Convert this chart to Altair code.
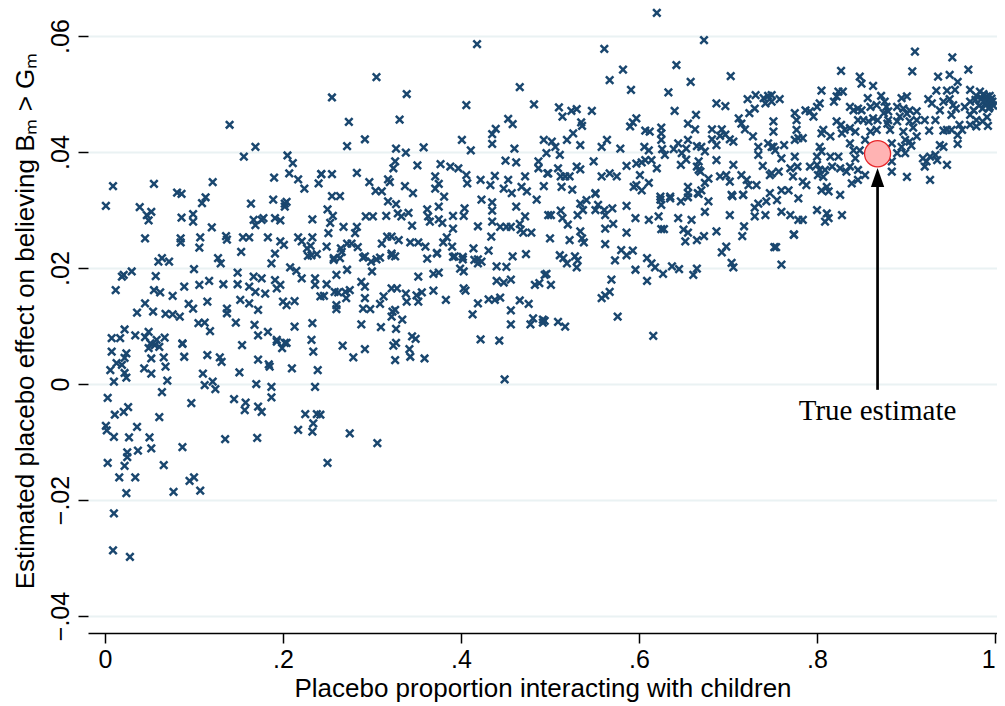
import altair as alt
import pandas as pd

# ---- scatter values (x = placebo proportion, y = estimated placebo effect) ----
grp_a = [(0.0075,0.0056),(0.024,0.0053),(0.022,0.0045),(0.013,0.0036),(0.006,0.0024),(0.019,0.0033),(0.022,0.0019),
         (0.024,0.0011),(0.010,0.0004),(0.003,-0.0024),(0.011,-0.0053),(0.021,-0.0048),(0.026,-0.0040),(0.001,-0.0072),
         (0.002,-0.0080),(0.010,-0.0091),(0.027,-0.0092),(0.036,-0.0074),(0.050,-0.0092),(0.037,-0.0115),(0.025,-0.0118),
         (0.025,-0.0126),(0.022,-0.0141),(0.003,-0.0136),(0.016,-0.0161),(0.034,-0.0161),(0.024,-0.0188),(0.010,-0.0223),
         (0.009,-0.0287),(0.028,-0.0298),(0.052,-0.0111),(0.066,-0.0140),(0.061,-0.0057),(0.087,-0.0109),(0.077,-0.0186),
         (0.095,-0.0167),(0.100,-0.0161),(0.107,-0.0184),(0.097,-0.0033)]
grp_b = [(0.135,-0.0095),(0.171,-0.0093),(0.145,-0.0026),(0.158,-0.0032),(0.157,-0.0045),(0.172,-0.0039),(0.176,-0.0048),
         (0.187,-0.0023),(0.187,-0.0005),(0.170,0.0000),(0.217,-0.0079),(0.225,-0.0052),(0.238,-0.0052),(0.234,-0.0068),
         (0.233,-0.0082),(0.236,-0.0005),(0.239,0.0024),(0.234,0.0056),(0.210,0.0027),(0.185,0.0030),(0.184,0.0034),
         (0.172,0.0042),(0.151,0.0020),(0.124,-0.0009),(0.121,0.0004),(0.112,-0.0002),(0.110,0.0018),(0.131,0.0038),
         (0.129,0.0046),(0.115,0.0050),(0.089,0.0047),(0.087,0.0069),(0.066,0.0046),(0.068,0.0030),(0.070,0.0006),
         (0.064,-0.0014),(0.052,0.0018),(0.044,0.0027),(0.052,0.0044),(0.049,0.0062),(0.056,0.0067),(0.061,0.0064),
         (0.154,0.0067),(0.193,0.0073),(0.204,0.0071),(0.199,0.0062),(0.275,-0.0085),(0.306,-0.0102),(0.250,-0.0136),
         (0.242,-0.0053)]
grp_c = [(0.0075,0.0079),(0.017,0.0079),(0.022,0.0094),(0.034,0.0084),(0.049,0.0090),(0.051,0.0070),(0.058,0.0076),
         (0.067,0.0080),(0.045,0.0081),(0.012,0.0162),(0.021,0.0188),(0.030,0.0194),(0.019,0.0185),(0.045,0.0139),
         (0.036,0.0123),(0.054,0.0125),(0.057,0.0186),(0.055,0.0162),(0.062,0.0158),(0.076,0.0152),(0.089,0.0168),
         (0.100,0.0198),(0.060,0.0211),(0.064,0.0217),(0.072,0.0211),(0.045,0.0251),(0.009,0.0341),(0.001,0.0307),
         (0.039,0.0305),(0.047,0.0291),(0.052,0.0297),(0.049,0.0282),(0.055,0.0345),(0.086,0.0287),(0.081,0.0330),
         (0.086,0.0328),(0.121,0.0348),(0.109,0.0312),(0.113,0.0322),(0.099,0.0293),(0.099,0.0280),(0.120,0.0270),
         (0.085,0.0251),(0.085,0.0244),(0.107,0.0253),(0.106,0.0235),(0.136,0.0255),(0.137,0.0249),(0.153,0.0228),
         (0.155,0.0253),(0.162,0.0253),(0.127,0.0217),(0.130,0.0208),(0.149,0.0192),(0.149,0.0172),(0.133,0.0172),
         (0.117,0.0178),(0.106,0.0171),(0.068,0.0121),(0.076,0.0120),(0.084,0.0116),(0.094,0.0138),(0.099,0.0130),
         (0.115,0.0142),(0.137,0.0130),(0.137,0.0122),(0.147,0.0106),(0.105,0.0105),(0.112,0.0106),(0.118,0.0091),
         (0.087,0.0070),(0.152,0.0145),(0.162,0.0139),(0.167,0.0185),(0.176,0.0182),(0.162,0.0168),(0.169,0.0159),
         (0.180,0.0156),(0.172,0.0128),(0.168,0.0102),(0.172,0.0084),(0.183,0.0090),(0.191,0.0179),(0.197,0.0171),
         (0.193,0.0165),(0.200,0.0142),(0.204,0.0136),(0.213,0.0143),(0.213,0.0099),(0.193,0.0076),(0.202,0.0071),
         (0.233,0.0105),(0.232,0.0076),(0.187,0.0208),(0.208,0.0201),(0.215,0.0195),(0.221,0.0182),(0.236,0.0182),
         (0.236,0.0171),(0.242,0.0151),(0.191,0.0225),(0.232,0.0222),(0.238,0.0224),(0.228,0.0221),(0.227,0.0234),
         (0.231,0.0238),(0.217,0.0253),(0.221,0.0246),(0.233,0.0253),(0.201,0.0240),(0.197,0.0246),(0.183,0.0253),
         (0.191,0.0286),(0.197,0.0282),(0.233,0.0284),(0.167,0.0283),(0.169,0.0274),(0.176,0.0283),(0.178,0.0286),
         (0.189,0.0318),(0.202,0.0311),(0.204,0.0314),(0.202,0.0306),(0.164,0.0311),(0.190,0.0356),(0.207,0.0363),
         (0.217,0.0353),(0.224,0.0337),(0.240,0.0346),(0.243,0.0362),(0.156,0.0392),(0.205,0.0394),(0.140,0.0447),
         (0.169,0.0409),(0.211,0.0381)]
grp_d = [(0.305,0.0529),(0.255,0.0494),(0.339,0.0500),(0.274,0.0452),(0.331,0.0456),(0.292,0.0422),(0.272,0.0410),
         (0.406,0.0481),(0.466,0.0512),(0.482,0.0482),(0.453,0.0457),(0.458,0.0448),(0.439,0.0440),(0.435,0.0431),
         (0.435,0.0414),(0.401,0.0421),(0.411,0.0403),(0.327,0.0406),(0.338,0.0399),(0.358,0.0408),(0.326,0.0384),
         (0.493,0.0421),(0.460,0.0406),(0.450,0.0385),(0.462,0.0382),(0.487,0.0384),(0.487,0.0372),(0.497,0.0363),
         (0.243,0.0362),(0.255,0.0362),(0.283,0.0364),(0.324,0.0372),(0.351,0.0377),(0.377,0.0379),(0.388,0.0375),
         (0.397,0.0372),(0.406,0.0360),(0.407,0.0346),(0.371,0.0358),(0.375,0.0345),(0.371,0.0337),(0.381,0.0323),
         (0.375,0.0306),(0.297,0.0348),(0.304,0.0333),(0.311,0.0332),(0.318,0.0353),(0.320,0.0348),(0.337,0.0341),
         (0.346,0.0329),(0.318,0.0315),(0.327,0.0310),(0.255,0.0324),(0.264,0.0324),(0.250,0.0301),(0.256,0.0290),
         (0.253,0.0278),(0.293,0.0289),(0.301,0.0289),(0.316,0.0290),(0.329,0.0294),(0.341,0.0295),(0.333,0.0289),
         (0.362,0.0301),(0.363,0.0289),(0.365,0.0280),(0.375,0.0284),(0.379,0.0278),(0.345,0.0273),(0.391,0.0290),
         (0.404,0.0303),(0.403,0.0290),(0.391,0.0268),(0.419,0.0272),(0.423,0.0318),(0.435,0.0313),(0.435,0.0299),
         (0.422,0.0352),(0.433,0.0343),(0.438,0.0359),(0.448,0.0337),(0.453,0.0352),(0.457,0.0329),(0.462,0.0306),
         (0.472,0.0358),(0.468,0.0340),(0.474,0.0332),(0.485,0.0318),(0.493,0.0341),(0.498,0.0291),(0.435,0.0280),
         (0.444,0.0271),(0.451,0.0271),(0.456,0.0271),(0.466,0.0276),(0.467,0.0266),(0.470,0.0261),(0.479,0.0261),
         (0.472,0.0289),(0.434,0.0254),(0.431,0.0230),(0.414,0.0234),(0.419,0.0215),(0.390,0.0237),(0.391,0.0219),
         (0.402,0.0219),(0.380,0.0244),(0.384,0.0253),(0.373,0.0226),(0.360,0.0237),(0.352,0.0244),(0.343,0.0244),
         (0.330,0.0248),(0.322,0.0254),(0.317,0.0254),(0.311,0.0242),(0.322,0.0225),(0.309,0.0218),(0.292,0.0220),
         (0.283,0.0271),(0.281,0.0260),(0.268,0.0271),(0.251,0.0260),(0.249,0.0237),(0.265,0.0234),(0.272,0.0242),
         (0.277,0.0242),(0.284,0.0236),(0.266,0.0228),(0.257,0.0217),(0.418,0.0586)]
grp_e = [(0.257,0.0214),(0.264,0.0217),(0.290,0.0218),(0.299,0.0211),(0.305,0.0215),(0.322,0.0222),(0.326,0.0220),
         (0.300,0.0194),(0.272,0.0197),(0.260,0.0188),(0.249,0.0172),(0.246,0.0152),(0.258,0.0159),(0.262,0.0158),
         (0.270,0.0159),(0.275,0.0162),(0.271,0.0148),(0.260,0.0136),(0.260,0.0129),(0.288,0.0176),(0.292,0.0168),
         (0.292,0.0148),(0.290,0.0130),(0.298,0.0129),(0.309,0.0138),(0.313,0.0151),(0.322,0.0165),(0.328,0.0165),
         (0.338,0.0156),(0.339,0.0142),(0.350,0.0153),(0.356,0.0158),(0.352,0.0142),(0.369,0.0161),(0.383,0.0145),
         (0.352,0.0185),(0.369,0.0190),(0.375,0.0192),(0.362,0.0216),(0.373,0.0225),(0.323,0.0125),(0.322,0.0116),
         (0.326,0.0128),(0.334,0.0111),(0.327,0.0095),(0.310,0.0098),(0.288,0.0103),(0.327,0.0071),(0.324,0.0066),
         (0.345,0.0082),(0.349,0.0078),(0.342,0.0060),(0.343,0.0047),(0.326,0.0041),(0.359,0.0044),(0.292,0.0060),
         (0.279,0.0046),(0.267,0.0066),(0.399,0.0199),(0.403,0.0194),(0.403,0.0165),(0.405,0.0161),(0.393,0.0220),
         (0.402,0.0215),(0.415,0.0214),(0.419,0.0208),(0.423,0.0211),(0.440,0.0203),(0.451,0.0202),(0.440,0.0178),
         (0.448,0.0175),(0.456,0.0180),(0.458,0.0220),(0.473,0.0224),(0.419,0.0139),(0.413,0.0120),(0.431,0.0146),
         (0.438,0.0145),(0.444,0.0149),(0.456,0.0127),(0.456,0.0103),(0.466,0.0144),(0.476,0.0138),(0.481,0.0113),
         (0.478,0.0103),(0.492,0.0111),(0.492,0.0106),(0.483,0.0171),(0.488,0.0174),(0.494,0.0188),(0.422,0.0077),
         (0.443,0.0075),(0.449,0.0008)]
grp_f = [(0.620,0.0640),(0.561,0.0578),(0.673,0.0593),(0.582,0.0542),(0.567,0.0524),(0.642,0.0550),(0.591,0.0507),
         (0.658,0.0521),(0.633,0.0503),(0.703,0.0531),(0.510,0.0477),(0.514,0.0461),(0.524,0.0471),(0.530,0.0474),
         (0.547,0.0471),(0.535,0.0451),(0.536,0.0445),(0.526,0.0432),(0.519,0.0421),(0.502,0.0418),(0.506,0.0409),
         (0.511,0.0395),(0.496,0.0398),(0.534,0.0412),(0.558,0.0409),(0.564,0.0421),(0.579,0.0406),(0.590,0.0444),
         (0.593,0.0451),(0.597,0.0458),(0.607,0.0437),(0.612,0.0435),(0.606,0.0409),(0.611,0.0403),(0.625,0.0442),
         (0.625,0.0432),(0.625,0.0421),(0.626,0.0405),(0.629,0.0395),(0.640,0.0471),(0.655,0.0449),(0.664,0.0464),
         (0.663,0.0439),(0.639,0.0405),(0.644,0.0415),(0.648,0.0398),(0.653,0.0406),(0.655,0.0421),(0.653,0.0387),
         (0.647,0.0378),(0.665,0.0410),(0.670,0.0409),(0.674,0.0401),(0.682,0.0439),(0.693,0.0439),(0.691,0.0428),
         (0.682,0.0422),(0.687,0.0412),(0.697,0.0430),(0.702,0.0422),(0.706,0.0418),(0.687,0.0386),(0.667,0.0384),
         (0.667,0.0369),(0.712,0.0458),(0.715,0.0449),(0.719,0.0439),(0.724,0.0467),(0.722,0.0491),(0.731,0.0498),
         (0.740,0.0493),(0.742,0.0484),(0.745,0.0497),(0.730,0.0475),(0.728,0.0427),(0.734,0.0409),(0.734,0.0395),
         (0.745,0.0415),(0.749,0.0409),(0.739,0.0376),(0.747,0.0360),(0.687,0.0484),(0.697,0.0479),(0.586,0.0376),
         (0.597,0.0380),(0.603,0.0382),(0.607,0.0386),(0.614,0.0386),(0.620,0.0372),(0.601,0.0360),(0.597,0.0343),
         (0.594,0.0340),(0.603,0.0334),(0.611,0.0347),(0.665,0.0375),(0.669,0.0366),(0.678,0.0354),(0.674,0.0347),
         (0.670,0.0334),(0.666,0.0329),(0.655,0.0340),(0.655,0.0329),(0.635,0.0323),(0.624,0.0323),(0.691,0.0358),
         (0.698,0.0360),(0.702,0.0349),(0.715,0.0360),(0.721,0.0352),(0.723,0.0343),(0.732,0.0343),(0.706,0.0378),
         (0.704,0.0326),(0.717,0.0326),(0.551,0.0329),(0.549,0.0384),(0.558,0.0358),(0.567,0.0363),(0.575,0.0358),
         (0.498,0.0363),(0.509,0.0372),(0.512,0.0358),(0.517,0.0358),(0.522,0.0358),(0.530,0.0375),(0.534,0.0370),
         (0.513,0.0340),(0.525,0.0335)]
grp_g = [(0.501,0.0291),(0.512,0.0299),(0.514,0.0286),(0.520,0.0275),(0.534,0.0311),(0.541,0.0317),(0.551,0.0328),
         (0.537,0.0300),(0.531,0.0291),(0.554,0.0309),(0.551,0.0300),(0.561,0.0300),(0.562,0.0291),(0.570,0.0303),
         (0.586,0.0307),(0.596,0.0286),(0.611,0.0283),(0.622,0.0289),(0.624,0.0318),(0.625,0.0309),(0.635,0.0320),
         (0.647,0.0315),(0.655,0.0322),(0.667,0.0328),(0.678,0.0315),(0.674,0.0297),(0.644,0.0286),(0.659,0.0283),
         (0.625,0.0267),(0.628,0.0267),(0.650,0.0266),(0.655,0.0261),(0.652,0.0246),(0.665,0.0248),(0.673,0.0255),
         (0.687,0.0263),(0.702,0.0291),(0.705,0.0324),(0.717,0.0326),(0.730,0.0304),(0.734,0.0311),(0.743,0.0315),
         (0.730,0.0289),(0.742,0.0291),(0.718,0.0272),(0.716,0.0255),(0.698,0.0237),(0.693,0.0227),(0.704,0.0209),
         (0.706,0.0201),(0.752,0.0236),(0.500,0.0251),(0.522,0.0248),(0.534,0.0263),(0.536,0.0251),(0.538,0.0244),
         (0.562,0.0268),(0.571,0.0276),(0.562,0.0241),(0.586,0.0261),(0.580,0.0231),(0.586,0.0222),(0.593,0.0230),
         (0.573,0.0213),(0.609,0.0217),(0.614,0.0208),(0.618,0.0201),(0.627,0.0190),(0.637,0.0203),(0.645,0.0198),
         (0.661,0.0188),(0.665,0.0199),(0.596,0.0197),(0.609,0.0178),(0.511,0.0222),(0.515,0.0217),(0.519,0.0208),
         (0.528,0.0220),(0.531,0.0213),(0.530,0.0201),(0.496,0.0190),(0.501,0.0171),(0.569,0.0180),(0.567,0.0159),
         (0.562,0.0153),(0.558,0.0148),(0.576,0.0116),(0.517,0.0099),(0.494,0.0109),(0.616,0.0083),(0.509,0.0107)]
grp_h = [(0.910,0.0573),(0.952,0.0563),(0.907,0.0539),(0.827,0.0540),(0.970,0.0542),(0.848,0.0530),(0.850,0.0518),
         (0.863,0.0514),(0.936,0.0530),(0.949,0.0533),(0.958,0.0521),(0.934,0.0506),(0.946,0.0506),(0.955,0.0507),
         (0.972,0.0507),(0.983,0.0504),(0.991,0.0496),(0.997,0.0487),(0.989,0.0484),(0.994,0.0478),(0.986,0.0475),
         (0.979,0.0497),(0.972,0.0487),(0.966,0.0478),(0.976,0.0472),(0.949,0.0491),(0.953,0.0481),(0.956,0.0475),
         (0.942,0.0487),(0.925,0.0491),(0.929,0.0484),(0.938,0.0472),(0.951,0.0464),(0.972,0.0464),(0.979,0.0455),
         (0.991,0.0460),(0.992,0.0445),(0.979,0.0444),(0.972,0.0447),(0.960,0.0447),(0.951,0.0438),(0.958,0.0429),
         (0.946,0.0438),(0.942,0.0437),(0.933,0.0455),(0.921,0.0455),(0.926,0.0437),(0.912,0.0455),(0.912,0.0470),
         (0.904,0.0472),(0.897,0.0475),(0.895,0.0493),(0.901,0.0496),(0.901,0.0466),(0.893,0.0461),(0.890,0.0453),
         (0.904,0.0453),(0.908,0.0442),(0.897,0.0435),(0.912,0.0427),(0.904,0.0418),(0.899,0.0421),(0.895,0.0409),
         (0.906,0.0411),(0.899,0.0398),(0.890,0.0398),(0.884,0.0415),(0.882,0.0438),(0.879,0.0449),(0.868,0.0455),
         (0.863,0.0458),(0.858,0.0453),(0.867,0.0438),(0.860,0.0435),(0.852,0.0455),(0.846,0.0455),(0.841,0.0472),
         (0.837,0.0478),(0.846,0.0475),(0.850,0.0472),(0.857,0.0493),(0.867,0.0481),(0.860,0.0478),(0.872,0.0497),
         (0.876,0.0487),(0.878,0.0478),(0.880,0.0470),(0.875,0.0467),(0.880,0.0455),(0.890,0.0478),(0.824,0.0504),
         (0.829,0.0504),(0.822,0.0496),(0.819,0.0487),(0.805,0.0506),(0.803,0.0484),(0.800,0.0478),(0.792,0.0470),
         (0.796,0.0461),(0.787,0.0472),(0.775,0.0467),(0.777,0.0455),(0.758,0.0491),(0.749,0.0498),(0.749,0.0487),
         (0.822,0.0453),(0.827,0.0447),(0.831,0.0438),(0.828,0.0432),(0.837,0.0441),(0.843,0.0435),(0.807,0.0438),
         (0.815,0.0427),(0.805,0.0432),(0.751,0.0453),(0.751,0.0435),(0.777,0.0438),(0.779,0.0424),(0.784,0.0424),
         (0.775,0.0421),(0.763,0.0412),(0.751,0.0409),(0.753,0.0403),(0.803,0.0409),(0.805,0.0401),(0.800,0.0392),
         (0.815,0.0392),(0.824,0.0392),(0.837,0.0415),(0.841,0.0403),(0.843,0.0389),(0.837,0.0375),(0.848,0.0403),
         (0.854,0.0421),(0.775,0.0392),(0.760,0.0389),(0.770,0.0372),(0.778,0.0375),(0.792,0.0375),(0.800,0.0378),
         (0.803,0.0369),(0.809,0.0369),(0.801,0.0360),(0.807,0.0357),(0.817,0.0375),(0.826,0.0372),(0.839,0.0346),
         (0.846,0.0352),(0.854,0.0360),(0.749,0.0363),(0.757,0.0366),(0.773,0.0358),(0.784,0.0349),(0.788,0.0343),
         (0.760,0.0334),(0.768,0.0334),(0.805,0.0334),(0.811,0.0340),(0.813,0.0332),(0.826,0.0326),(0.755,0.0317),
         (0.779,0.0320),(0.760,0.0297),(0.770,0.0291),(0.779,0.0283),(0.784,0.0283),(0.800,0.0300),(0.811,0.0294),
         (0.813,0.0286),(0.809,0.0280),(0.828,0.0291),(0.774,0.0258),(0.747,0.0329),(0.919,0.0389),(0.923,0.0384),
         (0.927,0.0392),(0.933,0.0395),(0.935,0.0386),(0.921,0.0375),(0.946,0.0378),(0.942,0.0409),(0.938,0.0412),
         (0.958,0.0414),(0.927,0.0352),(0.901,0.0357),(0.884,0.0366),(0.884,0.0384),(0.846,0.0369),(0.833,0.0366),
         (0.986,0.0453),(0.963,0.0438),(0.994,0.0497),(0.985,0.0492),(0.990,0.0490),(0.995,0.0485),(0.998,0.0480),
         (0.993,0.0475),(0.988,0.0488),(0.982,0.0480),(0.996,0.0492),(0.987,0.0500),(0.978,0.0490),(0.774,0.0257),
         (0.754,0.0236),(0.760,0.0206)]

# ---- annotation values ----
true_x = 0.868
true_y = 0.0397
arrow_from = -0.0010
arrow_to = 0.0345
arrow_head = 0.0356
label_y = -0.0062
label_text = "True estimate"

x_ticks = [0, 0.2, 0.4, 0.6, 0.8, 1]
y_ticks = [-0.04, -0.02, 0, 0.02, 0.04, 0.06]

rows = grp_a + grp_b + grp_c + grp_d + grp_e + grp_f + grp_g + grp_h
df = pd.DataFrame(rows, columns=["x", "y"])
ann = pd.DataFrame({"x": [true_x], "y": [true_y], "y0": [arrow_from], "y1": [arrow_to],
                    "yh": [arrow_head], "yl": [label_y], "t": [label_text]})

FONT = "Liberation Sans"
xs = alt.Scale(domain=[-0.0191, 1.0022], nice=False, zero=False)
ys = alt.Scale(domain=[-0.04293, 0.06483], nice=False, zero=False)

x_axis = alt.Axis(values=x_ticks, grid=False, domain=True, domainColor="black", domainWidth=1.5,
                  ticks=True, tickColor="black", tickWidth=1.5, tickSize=10,
                  labelFont=FONT, labelFontSize=25, labelColor="black", labelPadding=4,
                  labelFlush=5, labelFlushOffset=0,
                  labelExpr="datum.value == 0 ? '0' : datum.value == 1 ? '1' : replace(format(datum.value, '.1f'), '0.', '.')",
                  title="Placebo proportion interacting with children", titleFont=FONT, titleFontSize=26,
                  titleFontWeight="normal", titleColor="black", titlePadding=3)
y_axis = alt.Axis(values=y_ticks, grid=True, gridColor="#EAF2F3", gridWidth=2, domain=False,
                  ticks=True, tickColor="black", tickWidth=1.5, tickSize=10,
                  labelFont=FONT, labelFontSize=25, labelColor="black", labelAngle=-90,
                  labelAlign="center", labelBaseline="alphabetic", labelPadding=10,
                  labelExpr="datum.value == 0 ? '0' : replace(format(datum.value, '.2f'), '0.', '.')",
                  title="Estimated placebo effect on believing Bₘ > Gₘ", titleFont=FONT, titleFontSize=26,
                  titleFontWeight="normal", titleColor="black", titlePadding=10)

pts = alt.Chart(df).mark_point(shape="M-1,-1L1,1M-1,1L1,-1", filled=False, color="#1A476F",
                               strokeWidth=2.5, size=56, opacity=1).encode(
    x=alt.X("x:Q", scale=xs, axis=x_axis),
    y=alt.Y("y:Q", scale=ys, axis=y_axis),
)

base = alt.Chart(ann)
rule = base.mark_rule(color="black", strokeWidth=2.7).encode(
    x=alt.X("x:Q", scale=xs), y=alt.Y("y0:Q", scale=ys), y2="y1:Q")
head = base.mark_point(shape="M0,-1L0.7,1L-0.7,1Z", filled=True, color="black", size=361, opacity=1).encode(
    x=alt.X("x:Q", scale=xs), y=alt.Y("yh:Q", scale=ys))
circ = base.mark_point(shape="circle", filled=True, fill="#FFB3B3", stroke="#E8262A", strokeWidth=1.3,
                       size=680, opacity=1).encode(
    x=alt.X("x:Q", scale=xs), y=alt.Y("y:Q", scale=ys))
txt = base.mark_text(font="Liberation Serif", fontSize=29, color="black", baseline="alphabetic",
                     align="center").encode(
    x=alt.X("x:Q", scale=xs), y=alt.Y("yl:Q", scale=ys), text="t:N")

chart = alt.layer(pts, rule, head, circ, txt).properties(
    width=909, height=625,
    autosize=alt.AutoSizeParams(type="none"),
    padding={"left": 80, "top": 0, "right": 0, "bottom": 73},
    background="white",
).configure_view(stroke=None)

chart.save("out.html", embed_options={"renderer": "svg", "actions": False})
